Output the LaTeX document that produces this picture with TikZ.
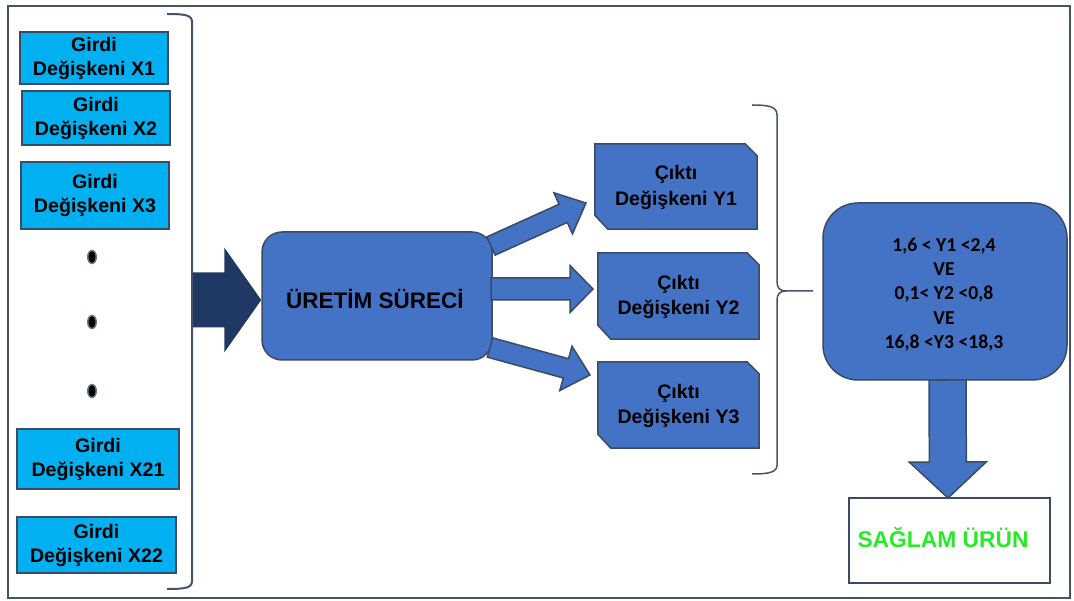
\documentclass[tikz,border=0pt]{standalone}
\usepackage{fontspec}
\setmainfont{Liberation Sans}
\newfontfamily\calib{Carlito}
\usetikzlibrary{calc,shapes.geometric}
\definecolor{frame}{HTML}{44546A}
\definecolor{lblue}{HTML}{00B0F0}
\definecolor{mblue}{HTML}{4472C4}
\definecolor{edge}{HTML}{3B4B63}
\definecolor{navy}{HTML}{1F3864}
\definecolor{okgreen}{RGB}{40,235,40}
\newcommand\blockarrow[6]{%
  \path[#6] let \p1=(#1), \p2=(#2), \n1={atan2(\y2-\y1,\x2-\x1)}, \n2={veclen(\x2-\x1,\y2-\y1)} in
    [shift={(\p1)}, rotate=\n1]
    (0pt,{#3*1pt}) -- ({(\n2-#5)*1pt},{#3*1pt}) -- ({(\n2-#5)*1pt},{#4*1pt}) -- ({\n2*1pt},0pt)
    -- ({(\n2-#5)*1pt},{-#4*1pt}) -- ({(\n2-#5)*1pt},{-#3*1pt}) -- (0pt,{-#3*1pt}) -- cycle;
}
\tikzset{
  xbox/.style={draw=edge, line width=2pt, fill=lblue, align=center, font=\bfseries\fontsize{19.6}{24}\selectfont, inner sep=0pt},
  txt/.style={align=center, font=\bfseries\fontsize{19.6}{25.5}\selectfont, inner sep=0pt},
  ybox/.style={inner sep=0pt},
  yshape/.style={draw=edge, line width=1.5pt, fill=mblue},
  bluearrow/.style={draw=edge, line width=1.5pt, fill=mblue},
  darkarrow/.style={fill=navy},
  brace/.style={draw=frame, line width=2pt},
  dot/.style={ellipse, fill=black, draw=frame!80, line width=1.5pt, minimum width=8.5pt, minimum height=13pt, inner sep=0pt},
}
\begin{document}
\begin{tikzpicture}[x=1pt,y=-1pt]
\useasboundingbox (0,0) rectangle (1074,601);
\draw[frame, line width=2.5pt] (8,6) rectangle (1070,598);

% input boxes
\node[xbox, minimum width=148pt, minimum height=52pt] (x1) at (94,58) {Girdi\\Değişkeni X1};
\node[xbox, minimum width=148pt, minimum height=54pt] (x2) at (96,118) {Girdi\\Değişkeni X2};
\node[xbox, minimum width=148pt, minimum height=67pt] (x3) at (95,195.5) {Girdi\\Değişkeni X3};
\node[xbox, minimum width=162pt, minimum height=60pt] (x21) at (98,459) {Girdi\\Değişkeni X21};
\node[xbox, minimum width=159pt, minimum height=56pt] (x22) at (96.5,545) {Girdi\\Değişkeni X22};
\node[dot] (d1) at (92,257) {};
\node[dot] (d2) at (92,322) {};
\node[dot] (d3) at (92,391) {};

% left bracket
\draw[brace] (167,14) .. controls (185,14) and (192,15) .. (192,22) -- (192,581) .. controls (192,588) and (185,589) .. (167,589);

% big input arrow
\coordinate (inA) at (193,300);
\node[draw=edge, line width=1.5pt, fill=mblue, rounded corners=20pt, minimum width=230pt, minimum height=128pt] (proc) at (377,296) {};
\node[txt, font=\bfseries\fontsize{22.5}{24}\selectfont] (proctxt) at (375,299) {ÜRETİM SÜRECİ};
\blockarrow{inA}{[yshift=-4pt]proc.west}{27.5}{52.5}{37}{darkarrow}

% output boxes
\node[ybox, minimum width=162pt, minimum height=85pt] (y1) at (676,186.5) {};
\node[ybox, minimum width=161pt, minimum height=86pt] (y2) at (678.5,296) {};
\node[ybox, minimum width=161pt, minimum height=86pt] (y3) at (678.5,405) {};
\foreach \b in {y1,y2,y3}{
  \draw[yshape] (\b.north west) -- ([xshift=-12pt]\b.north east) -- ([yshift=-12pt]\b.north east)
    -- (\b.south east) -- ([xshift=13pt]\b.south west) -- ([yshift=14pt]\b.south west) -- cycle;
}
\node[txt] (y1t) at ([yshift=-1pt]y1.center) {Çıktı\\Değişkeni Y1};
\node[txt] (y2t) at ([yshift=-1pt]y2.center) {Çıktı\\Değişkeni Y2};
\node[txt] (y3t) at ([yshift=-1pt]y3.center) {Çıktı\\Değişkeni Y3};

% arrows process -> outputs
\coordinate (a1s) at (491,246);
\coordinate (a1e) at (586,203);
\coordinate (a2s) at (491,289);
\coordinate (a2e) at (593,289);
\coordinate (a3s) at (490,347.5);
\coordinate (a3e) at (590,375);
\blockarrow{a1s}{a1e}{10}{22.5}{25}{bluearrow}
\blockarrow{a2s}{a2e}{11}{23.5}{23}{bluearrow}
\blockarrow{a3s}{a3e}{10}{23}{25}{bluearrow}

% right brace
\coordinate (bt) at (813,291);
\draw[brace, line width=1.5pt] (752,105) .. controls (770,105) and (777,107) .. (777,115) -- (777,282)
  .. controls (777,288) and (780,291) .. (786,291) -- (bt);
\draw[brace, line width=1.5pt] (786,291) .. controls (780,291) and (777,294) .. (777,300) -- (777,465)
  .. controls (777,472) and (770,474) .. (752,474);

% condition box
\node[draw=edge, line width=1.5pt, fill=mblue, rounded corners=35pt, minimum width=244pt, minimum height=177pt] (cond) at (945,291.5) {};
\node[align=center, font=\calib\bfseries\fontsize{19.7}{24.3}\selectfont, inner sep=0pt] (condtxt) at (944,294.5)
  {1,6 < Y1 <2,4\\VE\\0,1< Y2 <0,8\\VE\\16,8 <Y3 <18,3};

% result
\node[draw=edge, line width=1.5pt, fill=white, minimum width=201pt, minimum height=85pt] (res) at (949.5,540.5) {};
\node[txt, text=okgreen, font=\bfseries\fontsize{22.8}{24}\selectfont] (restxt) at (943,538) {SAĞLAM ÜRÜN};
\coordinate (dA) at (947.5,380);
\coordinate (dB) at (948,498);
\blockarrow{dA}{dB}{18.5}{38.5}{36}{bluearrow}
\end{tikzpicture}
\end{document}
